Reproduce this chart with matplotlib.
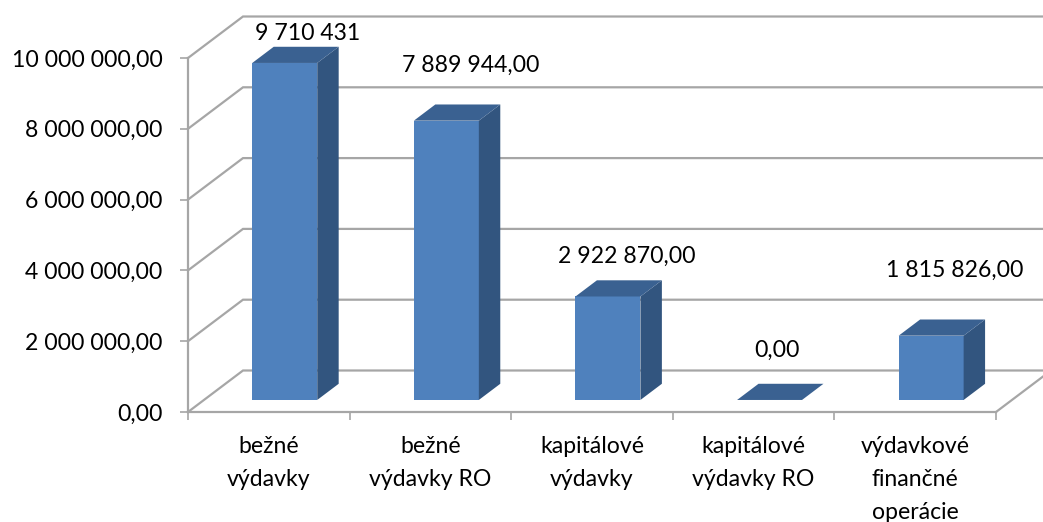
"""
Recreate 3D-look column chart of budget expenditure (vydavky) on plain 2D axes.
The depth is faked by shifting faces in data units.
"""

import matplotlib
matplotlib.use("Agg")
import matplotlib.pyplot as plt

CATEGORIES = [
    "bežné\nvýdavky",
    "bežné\nvýdavky RO",
    "kapitálové\nvýdavky",
    "kapitálové\nvýdavky RO",
    "výdavkové\nfinančné\noperácie",
]
# Drawn height of the columns (first one is lower than its label says in the reference)
VALUES = [9520000, 7889944, 2922870, 0, 1815826]
VALUE_LABELS = ["9 710 431", "7 889 944,00", "2 922 870,00", "0,00", "1 815 826,00"]
Y_TICKS = [0, 2000000, 4000000, 6000000, 8000000, 10000000]

# Manually moved data labels, pixels from the column's top centre
LABEL_SHIFT = [(23, 29), (24, 55), (19, 40), (7, 50), (24, 65)]

W, H = 1043, 522
LEFT, RIGHT, BOTTOM, TOP = 188, 996, 412, 58  # front plane, pixels
GRID = "#A6A6A6"
FRONT, SIDE, CAP = "#4F81BD", "#32557F", "#3A6191"

plt.rcParams["font.family"] = ["Lato", "DejaVu Sans"]
LABEL_SIZE = 16.6

fig = plt.figure(figsize=(W / 100, H / 100), dpi=100)
ax = fig.add_axes([LEFT / W, 1 - BOTTOM / H, (RIGHT - LEFT) / W, (BOTTOM - TOP) / H])
ax.set_xlim(0, len(CATEGORIES))
ax.set_ylim(0, 10000000)
ax.patch.set_visible(False)

px_x = len(CATEGORIES) / (RIGHT - LEFT)
px_y = 10000000 / (BOTTOM - TOP)
# wall/floor depth
depth_x, depth_y = 55 * px_x, 41.5 * px_y

for v in Y_TICKS:
    ax.plot([0, depth_x, len(CATEGORIES) + depth_x], [v, v + depth_y, v + depth_y],
            color=GRID, lw=1.6, clip_on=False, zorder=1, solid_joinstyle="miter")
ax.plot([len(CATEGORIES), len(CATEGORIES) + depth_x], [0, depth_y],
        color=GRID, lw=1.6, clip_on=False, zorder=1)

# columns sit on the floor, 30% / 40% / 30% of its depth
bar_w = 0.402
near, deep = 0.29, 0.39
for i, v in enumerate(VALUES):
    x0 = i + 0.5 - bar_w / 2 + near * depth_x
    x1 = x0 + bar_w
    y0 = near * depth_y
    y1 = y0 + v
    dx, dy = deep * depth_x, deep * depth_y
    ax.fill([x0, x1, x1, x0], [y0, y0, y1, y1], color=FRONT, lw=0, clip_on=False, zorder=3)
    ax.fill([x1, x1 + dx, x1 + dx, x1], [y0, y0 + dy, y1 + dy, y1], color=SIDE, lw=0,
            clip_on=False, zorder=3)
    ax.fill([x0, x1, x1 + dx, x0 + dx], [y1, y1, y1 + dy, y1 + dy], color=CAP, lw=0,
            clip_on=False, zorder=3)
    ax.annotate(VALUE_LABELS[i], xy=((x0 + x1) / 2, y1), xytext=LABEL_SHIFT[i],
                textcoords="offset pixels", ha="center", va="center",
                fontsize=LABEL_SIZE, color="black", annotation_clip=False, zorder=4)

for s in ["top", "right"]:
    ax.spines[s].set_visible(False)
for s in ["left", "bottom"]:
    ax.spines[s].set_color(GRID)
    ax.spines[s].set_linewidth(1.6)

ax.set_yticks(Y_TICKS)
ax.set_yticklabels([f"{v:,.2f}".replace(",", " ").replace(".", ",") for v in Y_TICKS],
                   fontsize=LABEL_SIZE)
ax.tick_params(axis="y", length=5.5, width=1.2, color=GRID, pad=13)

ax.set_xticks(range(len(CATEGORIES) + 1))
ax.set_xticklabels([])
ax.tick_params(axis="x", which="major", length=5.5, width=1.2, color=GRID)
ax.set_xticks([i + 0.5 for i in range(len(CATEGORIES))], minor=True)
ax.set_xticklabels(CATEGORIES, minor=True, fontsize=LABEL_SIZE, linespacing=1.69)
ax.tick_params(axis="x", which="minor", length=0, pad=17.5)

fig.savefig("out.png", dpi=100)
plt.close(fig)
